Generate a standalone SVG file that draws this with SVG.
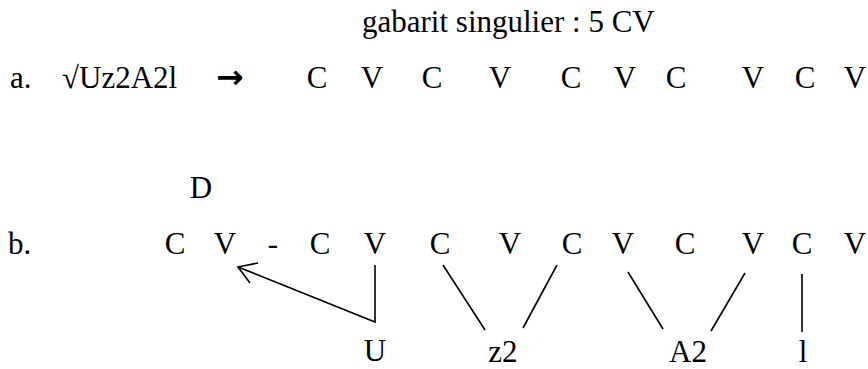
<svg xmlns="http://www.w3.org/2000/svg" width="868" height="369" viewBox="0 0 868 369">
<style>
.ln{stroke:#000;stroke-width:1.6;fill:none;stroke-linecap:butt}
</style>
<rect width="868" height="369" fill="#fff"/>
<g font-family="Liberation Serif" font-size="31" fill="#000">
<g id="title"><text x="362" y="32">gabarit singulier : 5 CV</text></g>
<g id="row-a">
<text x="10" y="88">a.</text>
<text x="62" y="88">√Uz2A2l</text>
<text x="216" y="88" font-family="DejaVu Sans" font-size="33" font-weight="bold">→</text>
<text text-anchor="middle" x="317" y="88">C</text>
<text text-anchor="middle" x="372" y="88">V</text>
<text text-anchor="middle" x="432" y="88">C</text>
<text text-anchor="middle" x="500" y="88">V</text>
<text text-anchor="middle" x="571" y="88">C</text>
<text text-anchor="middle" x="625" y="88">V</text>
<text text-anchor="middle" x="676" y="88">C</text>
<text text-anchor="middle" x="753" y="88">V</text>
<text text-anchor="middle" x="805" y="88">C</text>
<text text-anchor="middle" x="855" y="88">V</text>
</g>
<g id="node-D"><text text-anchor="middle" x="201" y="198">D</text></g>
<g id="row-b">
<text x="8" y="254">b.</text>
<text text-anchor="middle" x="175" y="254">C</text>
<text text-anchor="middle" x="225" y="254">V</text>
<text text-anchor="middle" x="273" y="254">-</text>
<text text-anchor="middle" x="320" y="254">C</text>
<text text-anchor="middle" x="375" y="254">V</text>
<text text-anchor="middle" x="440" y="254">C</text>
<text text-anchor="middle" x="510" y="254">V</text>
<text text-anchor="middle" x="572" y="254">C</text>
<text text-anchor="middle" x="623" y="254">V</text>
<text text-anchor="middle" x="685" y="254">C</text>
<text text-anchor="middle" x="753" y="254">V</text>
<text text-anchor="middle" x="802" y="254">C</text>
<text text-anchor="middle" x="855" y="254">V</text>
</g>
<g id="node-U"><text text-anchor="middle" x="375" y="361">U</text></g>
<g id="node-z2"><text text-anchor="middle" x="503" y="362">z2</text></g>
<g id="node-A2"><text text-anchor="middle" x="688" y="362">A2</text></g>
<g id="node-l"><text text-anchor="middle" x="803" y="362">l</text></g>
</g>
<g id="connectors">
<polyline class="ln" points="375,265 375,322 238,267"/>
<polyline class="ln" points="258,263 238,267 250,283"/>
<line class="ln" x1="443" y1="265" x2="485" y2="330"/>
<line class="ln" x1="557" y1="265" x2="523" y2="328"/>
<line class="ln" x1="628" y1="272" x2="663" y2="329"/>
<line class="ln" x1="745" y1="273" x2="711" y2="331"/>
<line class="ln" x1="802" y1="274" x2="802" y2="332"/>
</g>
</svg>
